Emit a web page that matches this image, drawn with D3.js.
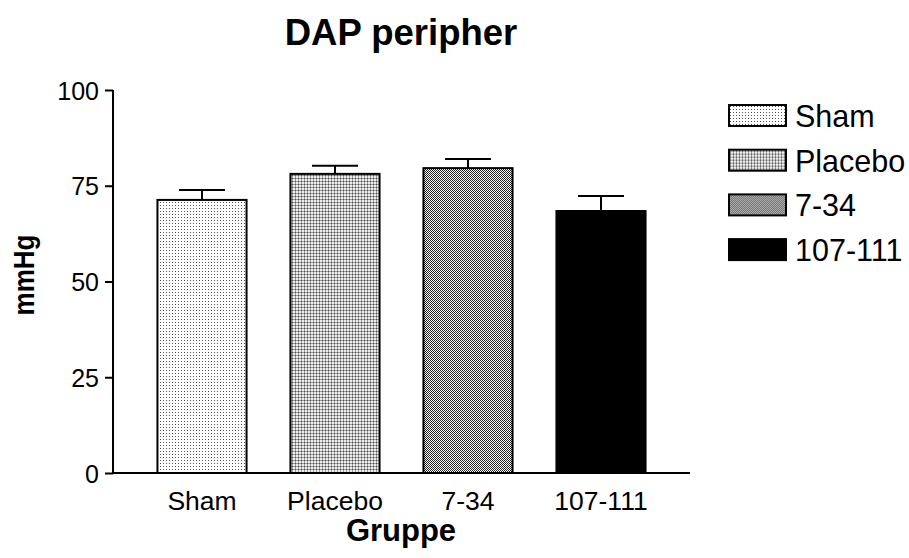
<!DOCTYPE html>
<html>
<head>
<meta charset="utf-8">
<script src="https://cdn.jsdelivr.net/npm/d3@7"></script>
<style>
  body { margin: 0; background: #fff; }
  text { font-family: "Liberation Sans", Arial, sans-serif; fill: #000; }
</style>
</head>
<body>
<svg width="909" height="558"></svg>
<script>
let groups = ['Sham', 'Placebo', '7-34', '107-111'];
let means = [71.3, 78.1, 79.6, 68.4];
let errors = [2.6, 2.1, 2.4, 3.9];
let yTicks = [0, 25, 50, 75, 100];
let fills = ['url(#pSham)', 'url(#pPlacebo)', 'url(#p734)', '#000'];

let data = groups.map((g, i) => ({ group: g, mean: means[i], err: errors[i], fill: fills[i] }));

let plotLeft = 113, plotRight = 690, plotTop = 90, plotBottom = 473;

let svg = d3.select('svg');

// fill patterns
let defs = svg.append('defs');
let p1 = defs.append('pattern').attr('id', 'pSham')
  .attr('width', 3).attr('height', 3).attr('patternUnits', 'userSpaceOnUse');
p1.append('rect').attr('width', 3).attr('height', 3).attr('fill', '#fff');
p1.append('rect').attr('x', 1).attr('y', 1).attr('width', 1).attr('height', 1).attr('fill', '#555');

let p2 = defs.append('pattern').attr('id', 'pPlacebo')
  .attr('width', 3).attr('height', 3).attr('patternUnits', 'userSpaceOnUse');
p2.append('rect').attr('width', 3).attr('height', 3).attr('fill', '#eee');
p2.append('rect').attr('x', 1).attr('width', 1).attr('height', 3).attr('fill', '#999');
p2.append('rect').attr('y', 1).attr('width', 3).attr('height', 1).attr('fill', '#999');
p2.append('rect').attr('x', 1).attr('y', 1).attr('width', 1).attr('height', 1).attr('fill', '#555');

let p3 = defs.append('pattern').attr('id', 'p734')
  .attr('width', 2).attr('height', 2).attr('patternUnits', 'userSpaceOnUse');
p3.append('rect').attr('width', 2).attr('height', 2).attr('fill', '#fff');
p3.append('rect').attr('width', 1).attr('height', 1).attr('fill', '#222');
p3.append('rect').attr('x', 1).attr('y', 1).attr('width', 1).attr('height', 1).attr('fill', '#222');

let xScale = d3.scaleBand()
               .domain(groups)
               .range([135.5, 667.5])
               .paddingInner(0.33)
               .paddingOuter(0.165);

let yScale = d3.scaleLinear()
               .domain([0, 100])
               .range([plotBottom, plotTop]);

// bars
svg.selectAll('rect.bar')
  .data(data)
  .enter()
  .append('rect')
    .attr('class', 'bar')
    .attr('x', d => xScale(d.group))
    .attr('y', d => yScale(d.mean))
    .attr('width', xScale.bandwidth())
    .attr('height', d => yScale(0) - yScale(d.mean))
    .attr('fill', d => d.fill)
    .attr('stroke', '#000')
    .attr('stroke-width', 2);

// error bars
let cap = 23;
let eb = svg.selectAll('g.err')
  .data(data)
  .enter()
  .append('g')
    .attr('class', 'err');
eb.append('line')
    .attr('x1', d => xScale(d.group) + xScale.bandwidth() / 2)
    .attr('x2', d => xScale(d.group) + xScale.bandwidth() / 2)
    .attr('y1', d => yScale(d.mean))
    .attr('y2', d => yScale(d.mean + d.err))
    .attr('stroke', '#000').attr('stroke-width', 2);
eb.append('line')
    .attr('x1', d => xScale(d.group) + xScale.bandwidth() / 2 - cap)
    .attr('x2', d => xScale(d.group) + xScale.bandwidth() / 2 + cap)
    .attr('y1', d => yScale(d.mean + d.err))
    .attr('y2', d => yScale(d.mean + d.err))
    .attr('stroke', '#000').attr('stroke-width', 2);

// y axis
let yAxis = svg.append('g')
  .attr('transform', `translate(${plotLeft},0)`)
  .call(d3.axisLeft(yScale).tickValues(yTicks).tickSize(8).tickPadding(6));
yAxis.select('.domain').attr('d', `M0,${plotTop}V${plotBottom}`).attr('stroke-width', 2);
yAxis.selectAll('.tick line').attr('stroke-width', 2);
yAxis.selectAll('.tick text')
  .style('font-family', '"Liberation Sans", Arial, sans-serif')
  .style('font-size', '25px')
  .attr('dy', '0.36em');

// x axis line
svg.append('line')
  .attr('x1', plotLeft).attr('x2', plotRight)
  .attr('y1', plotBottom).attr('y2', plotBottom)
  .attr('stroke', '#000').attr('stroke-width', 2);

// x labels
svg.selectAll('text.xlab')
  .data(groups)
  .enter()
  .append('text')
    .attr('class', 'xlab')
    .attr('x', d => xScale(d) + xScale.bandwidth() / 2)
    .attr('y', 510)
    .attr('text-anchor', 'middle')
    .style('font-size', '26.5px')
    .text(d => d);

// titles
svg.append('text')
  .attr('x', 401).attr('y', 45)
  .attr('text-anchor', 'middle')
  .style('font-size', '36.5px').style('font-weight', 'bold')
  .text('DAP peripher');

svg.append('text')
  .attr('x', 401).attr('y', 541)
  .attr('text-anchor', 'middle')
  .style('font-size', '31px').style('font-weight', 'bold')
  .text('Gruppe');

svg.append('text')
  .attr('transform', 'translate(34,275) rotate(-90) scale(1,1.13)')
  .attr('text-anchor', 'middle')
  .style('font-size', '26px').style('font-weight', 'bold')
  .text('mmHg');

// legend
let legend = svg.selectAll('g.leg')
  .data(data)
  .enter()
  .append('g')
    .attr('class', 'leg')
    .attr('transform', (d, i) => `translate(729,${105 + i * 44.7})`);
legend.append('rect')
  .attr('width', 57).attr('height', 21)
  .attr('fill', d => d.fill)
  .attr('stroke', '#000').attr('stroke-width', 2);
legend.append('text')
  .attr('x', 66).attr('y', 22)
  .style('font-size', '30.5px')
  .text(d => d.group);
</script>
</body>
</html>
